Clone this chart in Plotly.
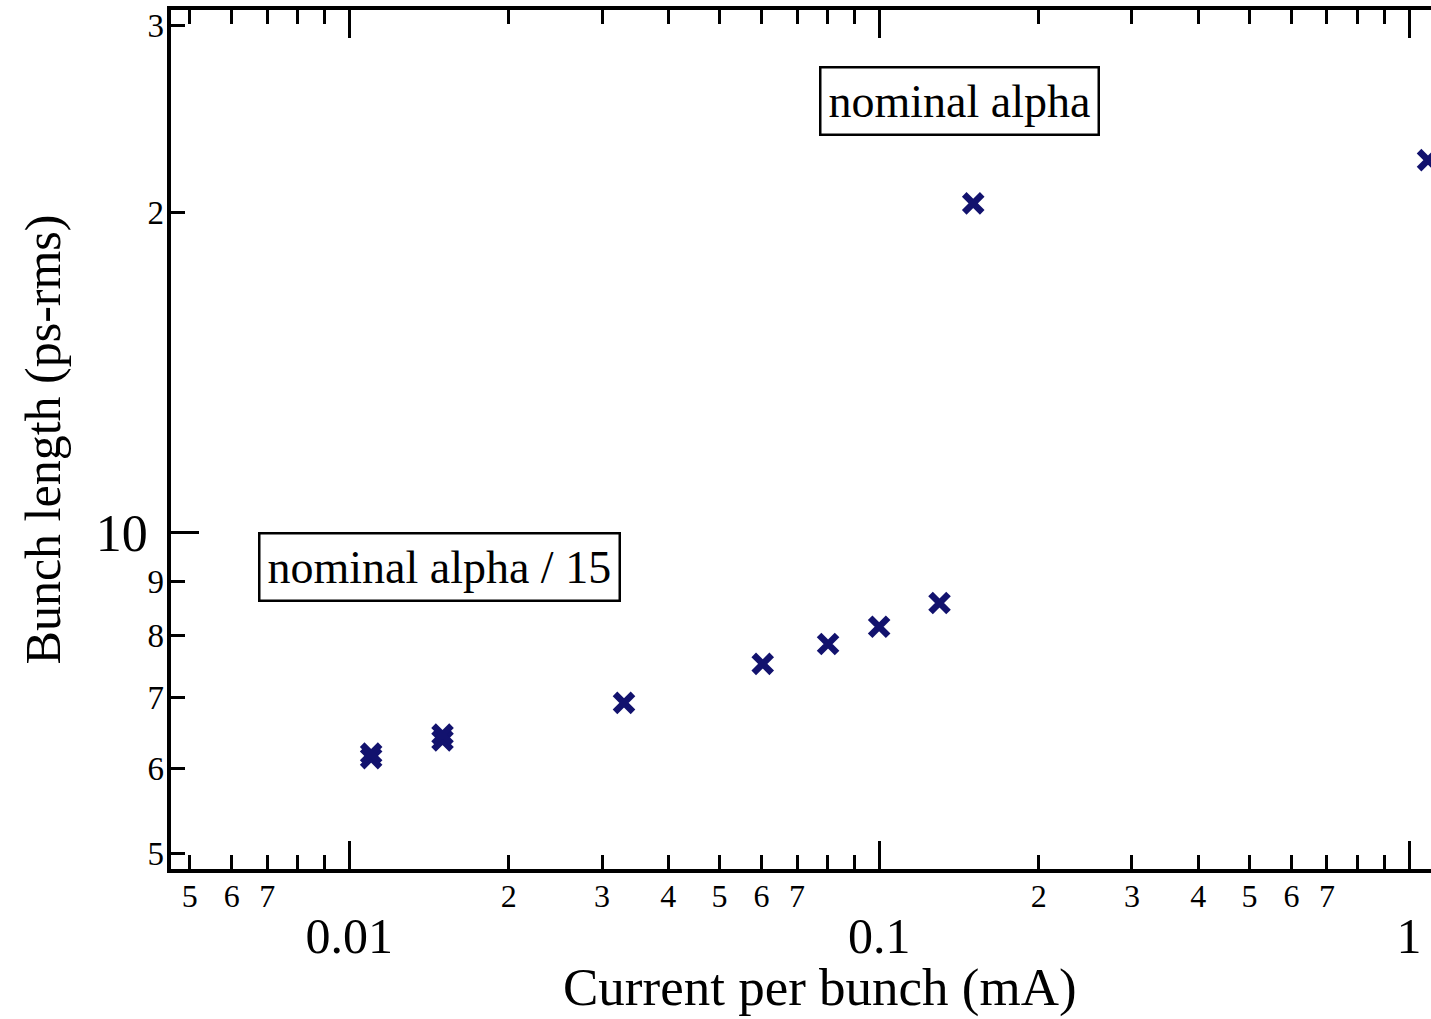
import plotly.graph_objects as go
import math

# ---- data ----
current_mA = [0.0110, 0.0110, 0.0150, 0.0150, 0.0330, 0.0603, 0.0801, 0.1000, 0.1300, 0.1505, 1.086]
bunch_len_ps = [6.14, 6.20, 6.38, 6.46, 6.92, 7.53, 7.86, 8.16, 8.59, 20.4, 22.4]

x_major_ticks = [0.01, 0.1, 1]
x_major_text = ["0.01", "0.1", "1"]
x_minor_ticks = [0.005, 0.006, 0.007, 0.008, 0.009,
                 0.02, 0.03, 0.04, 0.05, 0.06, 0.07, 0.08, 0.09,
                 0.2, 0.3, 0.4, 0.5, 0.6, 0.7, 0.8, 0.9]
x_minor_label_ticks = [0.005, 0.006, 0.007, 0.02, 0.03, 0.04, 0.05, 0.06, 0.07,
                       0.2, 0.3, 0.4, 0.5, 0.6, 0.7]
x_minor_label_text = ["5", "6", "7", "2", "3", "4", "5", "6", "7",
                      "2", "3", "4", "5", "6", "7"]

y_major_ticks = [10]
y_major_text = ["10"]
y_minor_ticks = [5, 6, 7, 8, 9, 20, 30]
y_minor_text = ["5", "6", "7", "8", "9", "2", "3"]

x_title = "Current per bunch (mA)"
y_title = "Bunch length (ps-rms)"

x_range = [math.log10(0.00461), math.log10(1.10)]
y_range = [math.log10(4.83), math.log10(31.0)]

FONT = "Liberation Serif, Times New Roman, serif"
NAVY = "#12126e"

fig = go.Figure()
fig.add_trace(go.Scatter(
    x=current_mA, y=bunch_len_ps, mode="markers",
    marker=dict(symbol="x-thin", size=18, color=NAVY,
                line=dict(width=6.5, color=NAVY)),
    showlegend=False, cliponaxis=False,
))
fig.add_trace(go.Scatter(x=[], y=[], xaxis="x2", yaxis="y2", showlegend=False))

axis_common = dict(type="log", showgrid=False, zeroline=False, color="black")

fig.update_layout(
    width=1431, height=1019,
    margin=dict(l=171, r=0, t=10, b=150),
    paper_bgcolor="white", plot_bgcolor="white",
    font=dict(family=FONT, color="black"),
    xaxis=dict(
        **axis_common, range=x_range,
        showline=True, linewidth=3.5, linecolor="black", mirror="allticks",
        ticks="inside", ticklen=28, tickwidth=3, tickcolor="black",
        tickmode="array", tickvals=x_major_ticks, ticktext=x_major_text,
        tickfont=dict(size=50, family=FONT), ticklabelstandoff=20,
        minor=dict(tickmode="array", tickvals=x_minor_ticks, ticks="inside",
                   ticklen=14, tickwidth=3, tickcolor="black"),
    ),
    xaxis2=dict(
        **axis_common, range=x_range, overlaying="x", anchor="y", side="bottom",
        showline=False, ticks="", tickmode="array",
        tickvals=x_minor_label_ticks, ticktext=x_minor_label_text,
        tickfont=dict(size=32, family=FONT), ticklabelstandoff=5,
    ),
    yaxis=dict(
        **axis_common, range=y_range,
        showline=True, linewidth=3.5, linecolor="black", mirror=False,
        ticks="inside", ticklen=28, tickwidth=3, tickcolor="black",
        tickmode="array", tickvals=y_major_ticks, ticktext=y_major_text,
        tickfont=dict(size=52, family=FONT), ticklabelstandoff=9,
        minor=dict(tickmode="array", tickvals=y_minor_ticks, ticks="inside",
                   ticklen=14, tickwidth=3, tickcolor="black"),
        title=dict(text=y_title, font=dict(size=50, family=FONT), standoff=20),
    ),
    yaxis2=dict(
        **axis_common, range=y_range, overlaying="y", anchor="x", side="left",
        showline=False, ticks="", tickmode="array",
        tickvals=y_minor_ticks, ticktext=y_minor_text,
        tickfont=dict(size=33, family=FONT), ticklabelstandoff=6,
    ),
    annotations=[
        dict(text=x_title, xref="paper", yref="paper", x=0.515, y=-0.1375,
             xanchor="center", yanchor="middle", showarrow=False,
             font=dict(size=53, family=FONT, color="black")),
        dict(text="nominal alpha", xref="paper", yref="paper", x=0.6258, y=0.8935,
             xanchor="center", yanchor="middle", showarrow=False,
             font=dict(size=46, family=FONT, color="black"),
             bordercolor="black", borderwidth=2.5, borderpad=7, bgcolor="white"),
        dict(text="nominal alpha / 15", xref="paper", yref="paper", x=0.2127, y=0.351,
             xanchor="center", yanchor="middle", showarrow=False,
             font=dict(size=46, family=FONT, color="black"),
             bordercolor="black", borderwidth=2.5, borderpad=7, bgcolor="white"),
    ],
)

fig.write_html("out.html")
